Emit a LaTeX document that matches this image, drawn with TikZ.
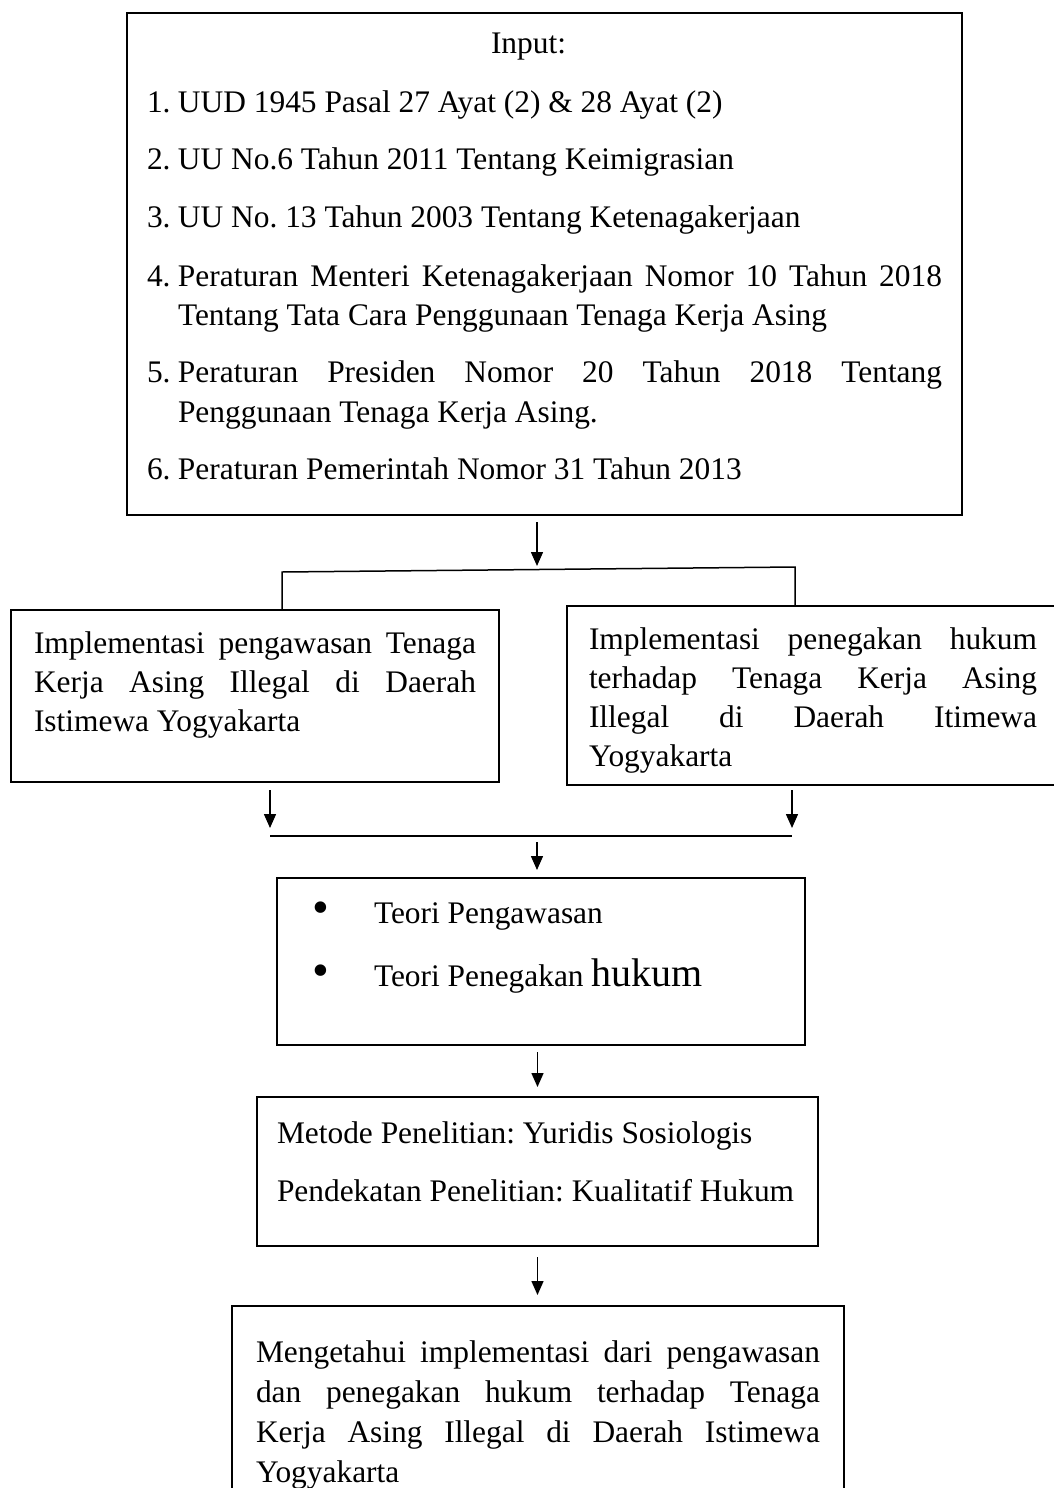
\documentclass[tikz,border=0pt]{standalone}
\usepackage{fontspec}
\setmainfont{Liberation Serif}
\usetikzlibrary{arrows.meta}
\frenchspacing
\hyphenpenalty=10000
\exhyphenpenalty=10000

\newcommand{\butir}[1]{\makebox[15.5pt][l]{#1.}}
\newcommand{\titik}{\hspace*{7.5pt}\makebox[31pt][l]{\fontsize{24}{19.5}\selectfont\textbullet}}

\begin{document}
\begin{tikzpicture}[x=0.5pt, y=-0.5pt,
  kotak/.style={draw, line width=1pt, anchor=north west, inner ysep=0pt, align=justify,
    font=\fontsize{15.7}{19.5}\selectfont},
  panah/.style={-{Triangle[length=7pt,width=6pt]}, line width=0.75pt},
  garis/.style={line width=0.75pt}]
\useasboundingbox (0,0) rectangle (1054,1488);
\clip (0,0) rectangle (1054,1488);

% kotak input
\node[kotak, inner xsep=10pt, text width=397.5pt, text height=20.5pt, text depth=230.5pt] (input) at (126,12) {%
\setlength{\parskip}{9.5pt}%
\hspace*{172pt}Input:\par
\butir{1}UUD 1945 Pasal 27 Ayat (2) \& 28 Ayat (2)\par
\butir{2}UU No.6 Tahun 2011 Tentang Keimigrasian\par
\butir{3}UU No. 13 Tahun 2003 Tentang Ketenagakerjaan\par
\hangindent=15.5pt\butir{4}Peraturan Menteri Ketenagakerjaan Nomor 10 Tahun 2018\linebreak Tentang Tata Cara Penggunaan Tenaga Kerja Asing\par
\hangindent=15.5pt\butir{5}Peraturan Presiden Nomor 20 Tahun 2018 Tentang\linebreak Penggunaan Tenaga Kerja Asing.\par
\butir{6}Peraturan Pemerintah Nomor 31 Tahun 2013};

% dua kotak tengah
\node[kotak, inner xsep=11.5pt, text width=221pt, text height=21.5pt, text depth=64.5pt] (pengawasan) at (10,609) {Implementasi pengawasan Tenaga\linebreak Kerja Asing Illegal di Daerah\linebreak Istimewa Yogyakarta};
\node[kotak, inner xsep=11pt, text width=224pt, text height=21.5pt, text depth=68pt] (penegakan) at (566,605) {Implementasi penegakan hukum\linebreak terhadap Tenaga Kerja Asing\linebreak Illegal di Daerah Itimewa\linebreak Yogyakarta};

% teori, metode, hasil
\node[kotak, inner xsep=10pt, text width=244pt, text height=22.5pt, text depth=61pt] (teori) at (276,877) {%
\titik Teori Pengawasan\par\vspace{12pt}
\titik Teori Penegakan {\fontsize{20}{19.5}\selectfont hukum}};
\node[kotak, inner xsep=0pt, text width=280.5pt, text height=23pt, text depth=51.5pt] (metode) at (256,1096) {%
\setlength{\parskip}{9.5pt}%
\hspace*{10pt}Metode Penelitian: Yuridis Sosiologis\par
\hspace*{10pt}Pendekatan Penelitian: Kualitatif Hukum};
\node[kotak, inner xsep=12pt, text width=282pt, text height=28pt, text depth=70pt,
  font=\fontsize{15.7}{20}\selectfont] (hasil) at (231,1305) {Mengetahui implementasi dari pengawasan\linebreak dan penegakan hukum terhadap Tenaga\linebreak Kerja Asing Illegal di Daerah Istimewa\linebreak Yogyakarta};

\coordinate (cabang) at (537,566);
\coordinate (kiri) at (282,572);
\coordinate (kanan) at (795,567);
\coordinate (gabkiri) at (270,836);
\coordinate (gabkanan) at (792,836);
\coordinate (gabung) at (537,836);

\draw[panah] ([yshift=-3pt]input.south -| cabang) -- (cabang);
\draw[garis] (pengawasan.north -| kiri) -- (kiri) -- (kanan) -- (kanan |- penegakan.north);
\draw[panah] ([yshift=-3.5pt]pengawasan.south -| gabkiri) -- ([yshift=4pt]gabkiri);
\draw[panah] ([yshift=-2pt]penegakan.south -| gabkanan) -- ([yshift=4pt]gabkanan);
\draw[line width=1pt] (gabkiri) -- (gabkanan);
\draw[panah] ([yshift=-3pt]gabung) -- ([yshift=3.5pt]teori.north -| gabung);
\draw[panah] ([yshift=-3pt]teori.south -| metode.north) -- ([yshift=4.5pt]metode.north);
\draw[panah] ([yshift=-5pt]metode.south) -- ([yshift=5pt]hasil.north -| metode.south);
\end{tikzpicture}
\end{document}
